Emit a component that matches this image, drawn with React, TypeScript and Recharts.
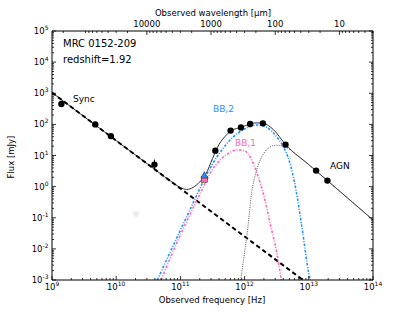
import React from 'react';
import { ComposedChart, Line, Scatter, XAxis, YAxis, ErrorBar, Customized } from 'recharts';

// axis ticks
const FREQ_TICKS = [1e9, 1e10, 1e11, 1e12, 1e13, 1e14];
const FREQ_EXP = ['9', '10', '11', '12', '13', '14'];
const FLUX_TICKS = [1e-3, 1e-2, 1e-1, 1, 10, 100, 1e3, 1e4, 1e5];
const FLUX_EXP = ['-3', '-2', '-1', '0', '1', '2', '3', '4', '5'];
const WAVE_TICKS = [10000, 1000, 100, 10]; // micron
const WAVE_LABELS = ['10000', '1000', '100', '10'];
const MINOR_STEPS = [2, 3, 4, 5, 6, 7, 8, 9];
const C_UM = 2.998e14; // speed of light, micron/s

// observed photometry
const OBS_NU = [1.4e9, 4.72e9, 8.26e9, 3.94e10, 3.5e11, 6.05e11, 8.77e11, 1.22e12, 1.93e12, 4.34e12, 1.3e13, 1.95e13];
const OBS_FLUX = [450, 100, 42, 5.1, 14.3, 63, 80, 103, 108, 22.3, 3.27, 1.56];
const OBS_ERR_LO = [0, 0, 0, 1.6, 0, 0, 0, 0, 0, 0, 0, 0];
const OBS_ERR_HI = [0, 0, 0, 2.3, 0, 0, 0, 0, 0, 0, 0, 0];
const LIMIT_NU = [2.36e11];
const TRI_FLUX = [2.25];
const SQ_FLUX = [1.72];
const FAINT_NU = [2.04e10];
const FAINT_FLUX = [0.132];

// model components [nu, flux]
const TOTAL: number[][] = [
  [1e9, 1050], [1e10, 30], [3.98e10, 3.6], [7.94e10, 1.26], [1e11, 0.93], [1.26e11, 0.81],
  [1.58e11, 0.95], [2.0e11, 1.41], [2.51e11, 2.63], [3.16e11, 7.9], [3.98e11, 22.4],
  [5.01e11, 41.7], [6.31e11, 64.6], [7.94e11, 75.9], [1e12, 89], [1.26e12, 105],
  [1.58e12, 112], [2.0e12, 107], [2.51e12, 83], [3.16e12, 52.5], [3.8e12, 31.6],
  [4.37e12, 22.4], [1e13, 5.1], [3.16e13, 0.66], [1e14, 0.085],
];
const SYNC: number[][] = [[1e9, 1050], [1e10, 30], [1e11, 0.87], [1e12, 0.025], [8.1e12, 0.001]];
const BB2: number[][] = [
  [4.37e10, 0.001], [1e11, 0.04], [1.58e11, 0.3], [2.51e11, 2.24], [3.98e11, 11.2],
  [6.31e11, 35.5], [1e12, 70.8], [1.58e12, 95.5], [2.24e12, 79.4], [3.16e12, 39.8],
  [3.98e12, 20], [5.01e12, 6.3], [6.31e12, 0.79], [7.94e12, 0.04], [1e13, 0.0016], [1.05e13, 0.001],
];
const BB1: number[][] = [
  [5.01e10, 0.001], [1e11, 0.028], [2.0e11, 0.56], [3.16e11, 3.55], [5.01e11, 10],
  [7.94e11, 15.1], [1e12, 14.1], [1.26e12, 7.9], [1.58e12, 2.5], [2.0e12, 0.5],
  [2.51e12, 0.063], [3.16e12, 0.0079], [3.72e12, 0.001],
];
const AGN: number[][] = [
  [8.71e11, 0.001], [1e12, 0.0079], [1.12e12, 0.045], [1.26e12, 0.45], [1.58e12, 4.0],
  [2.0e12, 12], [2.51e12, 19], [3.16e12, 21.4], [3.98e12, 20], [5.01e12, 15.8],
  [6.31e12, 11], [1e13, 5.0], [3.16e13, 0.66], [1e14, 0.085],
];

const toPts = (arr: number[][]) => arr.map(([x, y]) => ({ x, y }));

const minorBetween = (lo: number, hi: number) => {
  const out: number[] = [];
  for (let d = Math.floor(Math.log10(lo)); d <= Math.ceil(Math.log10(hi)); d++) {
    for (const m of MINOR_STEPS) {
      const v = m * Math.pow(10, d);
      if (v > lo && v < hi) out.push(v);
    }
  }
  return out;
};

const FREQ_ALL = [...FREQ_TICKS, ...minorBetween(1e9, 1e14)];
const FLUX_ALL = [...FLUX_TICKS, ...minorBetween(1e-3, 1e5)];
const WAVE_FREQ = WAVE_TICKS.map((w) => C_UM / w);
const WAVE_ALL = [...WAVE_FREQ, ...minorBetween(C_UM / 1e14, C_UM / 1e9).map((w) => C_UM / w)];

const FONT = 'DejaVu Sans';
const TICK_FS = 8.5;
const SUP_FS = 6;

const BottomTick = (p: any) => {
  const i = FREQ_TICKS.indexOf(p.payload.value);
  const major = i >= 0;
  return (
    <g>
      <line x1={p.x} x2={p.x} y1={p.y} y2={p.y - (major ? 4 : 2)} stroke="#000" strokeWidth={0.8} />
      {major && (
        <text x={p.x} y={p.y + 10} textAnchor="middle" fontSize={TICK_FS} fontFamily={FONT} fill="#000">
          10<tspan dy={-4} fontSize={SUP_FS}>{FREQ_EXP[i]}</tspan>
        </text>
      )}
    </g>
  );
};

const TopTick = (p: any) => {
  const i = WAVE_FREQ.indexOf(p.payload.value);
  const major = i >= 0;
  return (
    <g>
      <line x1={p.x} x2={p.x} y1={p.y} y2={p.y + (major ? 4 : 2)} stroke="#000" strokeWidth={0.8} />
      {major && (
        <text x={p.x} y={p.y - 4} textAnchor="middle" fontSize={TICK_FS} fontFamily={FONT} fill="#000">
          {WAVE_LABELS[i]}
        </text>
      )}
    </g>
  );
};

const LeftTick = (p: any) => {
  const i = FLUX_TICKS.indexOf(p.payload.value);
  const major = i >= 0;
  return (
    <g>
      <line x1={p.x} x2={p.x + (major ? 4 : 2)} y1={p.y} y2={p.y} stroke="#000" strokeWidth={0.8} />
      {major && (
        <text x={p.x - 3.5} y={p.y + 3} textAnchor="end" fontSize={TICK_FS} fontFamily={FONT} fill="#000">
          10<tspan dy={-4} fontSize={SUP_FS}>{FLUX_EXP[i]}</tspan>
        </text>
      )}
    </g>
  );
};

const RightTick = (p: any) => {
  const major = FLUX_TICKS.indexOf(p.payload.value) >= 0;
  return <line x1={p.x} x2={p.x - (major ? 4 : 2)} y1={p.y} y2={p.y} stroke="#000" strokeWidth={0.8} />;
};

const Dot = (p: any) => <circle cx={p.cx} cy={p.cy} r={3.2} fill="#000" />;
const FaintDot = (p: any) => <circle cx={p.cx} cy={p.cy} r={3} fill="#ececec" />;
const Triangle = (p: any) => (
  <polygon
    points={`${p.cx},${p.cy - 4} ${p.cx - 3.6},${p.cy + 2.4} ${p.cx + 3.6},${p.cy + 2.4}`}
    fill="#1e90ff"
    stroke="#333"
    strokeWidth={0.6}
  />
);
const Square = (p: any) => (
  <rect x={p.cx - 3} y={p.cy - 3} width={6} height={6} fill="#ff69b4" stroke="#333" strokeWidth={0.6} />
);

const Annotations = () => (
  <g fontFamily={FONT}>
    <text x={63} y={47} fontSize={10} fill="#000">MRC 0152-209</text>
    <text x={63} y={62.5} fontSize={10} fill="#000">redshift=1.92</text>
    <text x={73} y={101.5} fontSize={9} fill="#000">Sync</text>
    <text x={213} y={112} fontSize={9} fill="#1e90ff">BB,2</text>
    <text x={235} y={146} fontSize={9} fill="#ff69b4">BB,1</text>
    <text x={330} y={169} fontSize={9} fill="#000">AGN</text>
    <text x={212} y={303} fontSize={8.5} textAnchor="middle" fill="#000">Observed frequency [Hz]</text>
    <text x={213} y={16} fontSize={8.5} textAnchor="middle" fill="#000">Observed wavelength [μm]</text>
    <text x={14} y={157} fontSize={8.5} textAnchor="middle" fill="#000" transform="rotate(-90 14 157)">Flux [mJy]</text>
  </g>
);

export default function App() {
  const obs = OBS_NU.map((x, i) => ({ x, y: OBS_FLUX[i], err: [OBS_ERR_LO[i], OBS_ERR_HI[i]] }));
  const tri = LIMIT_NU.map((x, i) => ({ x, y: TRI_FLUX[i] }));
  const sq = LIMIT_NU.map((x, i) => ({ x, y: SQ_FLUX[i] }));
  const faint = FAINT_NU.map((x, i) => ({ x, y: FAINT_FLUX[i] }));

  return (
    <div style={{ position: 'absolute', left: 0, top: 0, width: 416, height: 312, background: '#fff' }}>
      <ComposedChart width={416} height={312} margin={{ top: 30, right: 42, bottom: 31, left: 51 }}>
        <XAxis
          xAxisId="b" dataKey="x" type="number" scale="log" domain={[1e9, 1e14]} allowDataOverflow
          ticks={FREQ_ALL} interval={0} height={1} tickSize={0} tickMargin={0} tickLine={false}
          tick={BottomTick} axisLine={{ stroke: '#000' }}
        />
        <XAxis
          xAxisId="t" dataKey="x" orientation="top" type="number" scale="log" domain={[1e9, 1e14]} allowDataOverflow
          ticks={WAVE_ALL} interval={0} height={1} tickSize={0} tickMargin={0} tickLine={false}
          tick={TopTick} axisLine={{ stroke: '#000' }}
        />
        <YAxis
          yAxisId="l" dataKey="y" type="number" scale="log" domain={[1e-3, 1e5]} allowDataOverflow
          ticks={FLUX_ALL} interval={0} width={1} tickSize={0} tickMargin={0} tickLine={false}
          tick={LeftTick} axisLine={{ stroke: '#000' }}
        />
        <YAxis
          yAxisId="r" dataKey="y" orientation="right" type="number" scale="log" domain={[1e-3, 1e5]} allowDataOverflow
          ticks={FLUX_ALL} interval={0} width={1} tickSize={0} tickMargin={0} tickLine={false}
          tick={RightTick} axisLine={{ stroke: '#000' }}
        />

        {/* invisible copy of the total model so the top/right axes get a scale */}
        <Line xAxisId="t" yAxisId="r" data={toPts(TOTAL)} dataKey="y" type="monotone" stroke="none" dot={false} activeDot={false} isAnimationActive={false} />

        <Line xAxisId="b" yAxisId="l" data={toPts(TOTAL)} dataKey="y" type="monotone" stroke="#333" strokeWidth={1} dot={false} isAnimationActive={false} />
        <Line xAxisId="b" yAxisId="l" data={toPts(SYNC)} dataKey="y" type="linear" stroke="#000" strokeWidth={2} strokeDasharray="4.5 3" dot={false} isAnimationActive={false} />
        <Line xAxisId="b" yAxisId="l" data={toPts(BB1)} dataKey="y" type="monotone" stroke="#ff69b4" strokeWidth={1.6} strokeDasharray="2.5 1.5 1 1.5" dot={false} isAnimationActive={false} />
        <Line xAxisId="b" yAxisId="l" data={toPts(BB2)} dataKey="y" type="monotone" stroke="#1e90ff" strokeWidth={1.6} strokeDasharray="2.5 1.5 1 1.5" dot={false} isAnimationActive={false} />
        <Line xAxisId="b" yAxisId="l" data={toPts(AGN)} dataKey="y" type="monotone" stroke="#555" strokeWidth={1} strokeDasharray="1 1.2" dot={false} isAnimationActive={false} />

        <Scatter xAxisId="b" yAxisId="l" data={faint} dataKey="y" shape={FaintDot} isAnimationActive={false} />
        <Scatter xAxisId="b" yAxisId="l" data={obs} dataKey="y" shape={Dot} isAnimationActive={false}>
          <ErrorBar dataKey="err" direction="y" width={0} stroke="#000" strokeWidth={1} />
        </Scatter>
        <Scatter xAxisId="b" yAxisId="l" data={sq} dataKey="y" shape={Square} isAnimationActive={false} />
        <Scatter xAxisId="b" yAxisId="l" data={tri} dataKey="y" shape={Triangle} isAnimationActive={false} />

        <Customized component={Annotations} />
      </ComposedChart>
    </div>
  );
}
